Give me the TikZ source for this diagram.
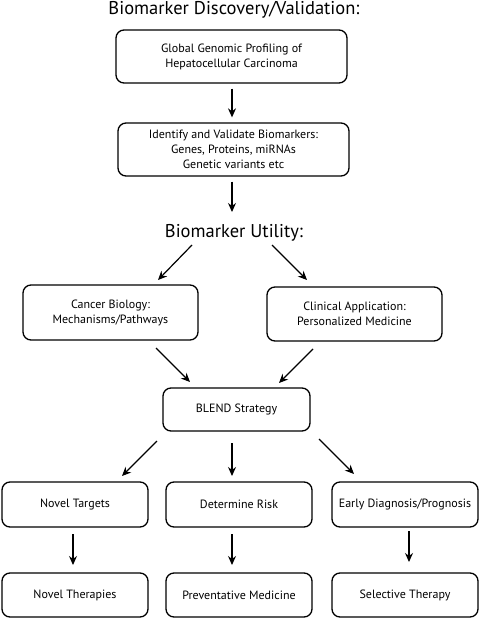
\documentclass[tikz,border=0pt]{standalone}
\usepackage{fontspec}
\setmainfont{PT Sans}
\usetikzlibrary{arrows.meta,calc}
\begin{document}
\begin{tikzpicture}[x=1pt,y=-1pt,
  box/.style={draw,rounded corners=8pt,line width=1.3pt,align=center,inner sep=0pt,
    font=\fontsize{12}{15}\selectfont},
  arr/.style={line width=1.2pt,-{Stealth[length=9pt,width=8pt]}},
  head/.style={font=\fontsize{18.5}{20}\selectfont,anchor=base}]
\useasboundingbox (0,0) rectangle (480,618);
\node[head] (t1) at (234,15) {Biomarker Discovery/Validation:};
\node[box,minimum width=231pt,minimum height=53pt] (b1) at (231.5,56.5) {Global Genomic Profiling of\\Hepatocellular Carcinoma};
\node[box,minimum width=231pt,minimum height=53pt] (b2) at (233.5,149.5) {Identify and Validate Biomarkers:\\Genes, Proteins, miRNAs\\Genetic variants etc};
\node[head] (t2) at (234,237) {Biomarker Utility:};
\node[box,minimum width=175pt,minimum height=55pt] (cb) at (110.5,312.5) {Cancer Biology:\\Mechanisms/Pathways};
\node[box,minimum width=175pt,minimum height=54pt] (ca) at (354.5,314) {Clinical Application:\\Personalized Medicine};
\node[box,minimum width=147pt,minimum height=43pt] (bl) at (236.5,409.5) {BLEND Strategy};
\node[box,minimum width=146pt,minimum height=45pt] (nt) at (75,504.5) {Novel Targets};
\node[box,minimum width=146pt,minimum height=45pt] (dr) at (239,504.5) {Determine Risk};
\node[box,minimum width=146pt,minimum height=45pt] (ed) at (405,504.5) {Early Diagnosis/Prognosis};
\node[box,minimum width=146pt,minimum height=44pt] (nth) at (75,595) {Novel Therapies};
\node[box,minimum width=146pt,minimum height=44pt] (pm) at (239,595) {Preventative Medicine};
\node[box,minimum width=146pt,minimum height=44pt] (st) at (405,595) {Selective Therapy};
% free ends
\coordinate (u1) at (192,245); \coordinate (u1e) at (158,280);
\coordinate (u2) at (272,245); \coordinate (u2e) at (307,280);
\coordinate (c1) at (156,348); \coordinate (c1e) at (190,382);
\coordinate (c2) at (313,349); \coordinate (c2e) at (279,383);
\coordinate (l1) at (157,441); \coordinate (l1e) at (122,476);
\coordinate (l3) at (319,439); \coordinate (l3e) at (354,474);
\draw[arr] ($(b1.south)+(0.5,5)$) -- ($(b2.north)+(-1.5,-5)$);
\draw[arr] ($(b2.south)+(-1.5,5)$) -- (232,212);
\draw[arr] (u1) -- (u1e);
\draw[arr] (u2) -- (u2e);
\draw[arr] (c1) -- (c1e);
\draw[arr] (c2) -- (c2e);
\draw[arr] (l1) -- (l1e);
\draw[arr] (232,443) -- (232,476);
\draw[arr] (l3) -- (l3e);
\draw[arr] (73,534) -- (73,565);
\draw[arr] (232,534) -- (232,565);
\draw[arr] (409,531) -- (409,562);
\end{tikzpicture}
\end{document}
